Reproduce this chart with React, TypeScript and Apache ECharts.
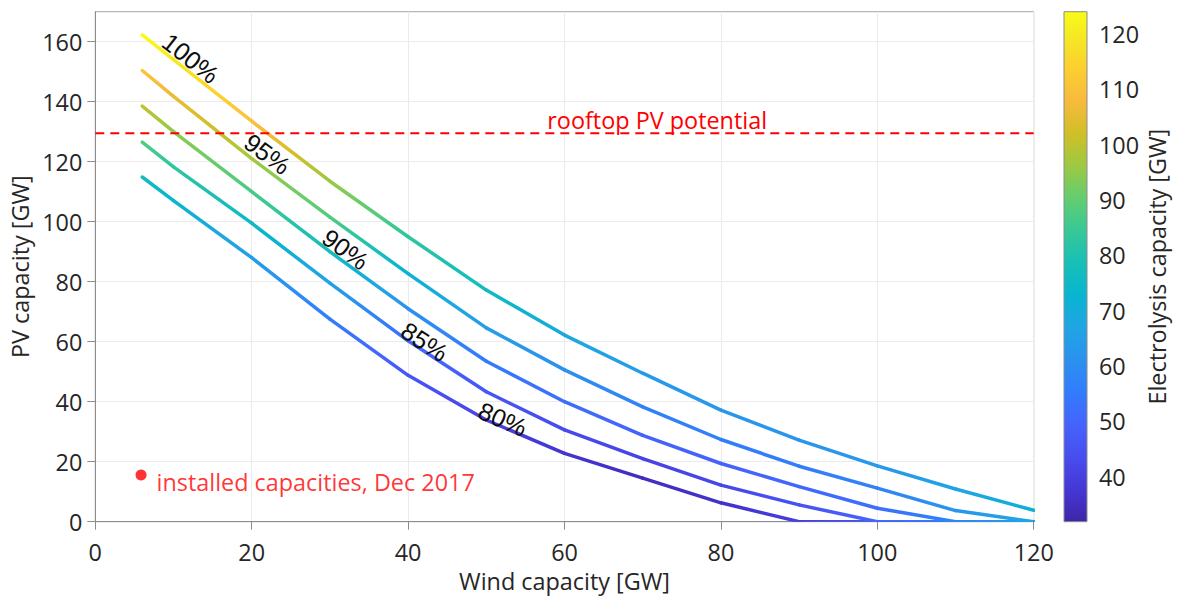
import React, { useEffect, useRef } from "react";
import * as echarts from "echarts";

// Wind capacity sampling points [GW]
const windCapacity = [6, 10, 20, 30, 40, 50, 60, 70, 80, 90, 100, 110, 120];

// Share levels of the contour lines
const shareLevels = ["80%", "85%", "90%", "95%", "100%"];

// Required PV capacity [GW] per share level
const pv80 = [114.9, 107, 88, 67.5, 48.8, 33.9, 22.8, 14.5, 6.3, 0, 0, 0, 0];
const pv85 = [126.5, 118.3, 99.5, 79.5, 60.3, 43.3, 30.6, 21, 12.2, 5.6, 0, 0, 0];
const pv90 = [138.5, 130, 110, 90, 71, 53.5, 40, 28.8, 19.4, 11.7, 4.5, 0, 0];
const pv95 = [150.4, 141.8, 121, 101.5, 82.7, 64.6, 50.6, 38.3, 27.4, 18.5, 11.2, 3.7, 0];
const pv100 = [162.3, 154, 133.5, 113.5, 95, 77.2, 62.2, 49.5, 37.2, 27.2, 18.6, 10.9, 3.8];

// Electrolysis capacity [GW] along each line
const el80 = [77, 73, 65, 56, 46, 41, 37, 35, 36, 40, 46, 54, 62];
const el85 = [88, 83, 75, 66, 51, 46, 43, 41, 42, 45, 50, 56, 64];
const el90 = [100, 95, 87, 77, 61, 55, 52, 49, 49, 50, 52, 58, 66];
const el95 = [111, 106, 97, 88, 72, 65, 61, 57, 56, 56, 57, 62, 68];
const el100 = [124, 120, 110, 96, 83, 76, 68, 64, 63, 62, 63, 67, 71];

// Contour label anchors (text centre in data units)
const labelWind = [52.1, 42.1, 32.0, 22.0, 12.2];
const labelPV = [34.2, 60.0, 90.8, 122.6, 154.5];

// Reference values
const rooftopPotential = 129.5;
const installedPoint = [5.85, 15.6];
const rooftopTextAnchor = [57.8, 129.5];

// Axis ticks
const xTicks = [0, 20, 40, 60, 80, 100, 120];
const yTicks = [0, 20, 40, 60, 80, 100, 120, 140, 160];
const colorTicks = [40, 50, 60, 70, 80, 90, 100, 110, 120];
const colorRange = [31.9, 124];

const pvCurves = [pv80, pv85, pv90, pv95, pv100];
const elCurves = [el80, el85, el90, el95, el100];

// parula colormap, [position, r, g, b]
const parulaStops: number[][] = [
  [0 / 63, 0.2422, 0.1504, 0.6603],
  [4 / 63, 0.2706, 0.2147, 0.8364],
  [8 / 63, 0.2813, 0.3006, 0.9414],
  [12 / 63, 0.2699, 0.3892, 0.9906],
  [16 / 63, 0.1963, 0.4847, 0.9892],
  [20 / 63, 0.1687, 0.5703, 0.9359],
  [24 / 63, 0.1248, 0.6459, 0.8883],
  [28 / 63, 0.0297, 0.7082, 0.8163],
  [32 / 63, 0.0964, 0.75, 0.712],
  [36 / 63, 0.2161, 0.7843, 0.5923],
  [40 / 63, 0.3909, 0.8029, 0.4354],
  [44 / 63, 0.6174, 0.7876, 0.2612],
  [48 / 63, 0.8203, 0.7498, 0.1535],
  [52 / 63, 0.9728, 0.7298, 0.2394],
  [56 / 63, 0.9892, 0.8136, 0.1885],
  [60 / 63, 0.9597, 0.9135, 0.1423],
  [63 / 63, 0.9769, 0.9839, 0.0805],
];

function parulaAt(t: number): string {
  const tt = Math.min(1, Math.max(0, t));
  let k = 0;
  while (k < parulaStops.length - 2 && parulaStops[k + 1][0] < tt) k++;
  const a = parulaStops[k];
  const b = parulaStops[k + 1];
  const f = (tt - a[0]) / (b[0] - a[0]);
  const c = [1, 2, 3].map((j) => Math.round((a[j] + (b[j] - a[j]) * f) * 255));
  return `rgb(${c[0]},${c[1]},${c[2]})`;
}

function parula(v: number): string {
  return parulaAt((v - colorRange[0]) / (colorRange[1] - colorRange[0]));
}

const FONT = "'Open Sans', 'Noto Sans', sans-serif";
const TXT = "#262626";
const AXIS_GRAY = "#8c8c8c";

function buildOption(): echarts.EChartsCoreOption {
  const curveSeries = pvCurves.map((pv, k) => {
    const el = elCurves[k];
    const segments: number[][] = [];
    for (let i = 0; i < windCapacity.length - 1; i++) {
      segments.push([windCapacity[i], pv[i], el[i], windCapacity[i + 1], pv[i + 1], el[i + 1]]);
    }
    return {
      type: "custom",
      name: shareLevels[k],
      clip: true,
      z: 3,
      xAxisIndex: 0,
      yAxisIndex: 0,
      dimensions: ["w0", "p0", "e0", "w1", "p1", "e1"],
      encode: { x: [0, 3], y: [1, 4] },
      data: segments,
      renderItem: (params: any, api: any) => {
        const a = api.coord([api.value(0), api.value(1)]);
        const b = api.coord([api.value(3), api.value(4)]);
        const e0 = api.value(2);
        const e1 = api.value(5);
        const stops = [];
        for (let j = 0; j <= 8; j++) {
          const t = j / 8;
          stops.push({ offset: t, color: parula(e0 + (e1 - e0) * t) });
        }
        return {
          type: "line",
          shape: { x1: a[0], y1: a[1], x2: b[0], y2: b[1] },
          style: {
            stroke: new echarts.graphic.LinearGradient(a[0], a[1], b[0] + 0.001, b[1], stops, true),
            lineWidth: 3.5,
            lineCap: "round",
          },
        };
      },
    };
  });

  const labelSeries = {
    type: "custom",
    z: 4,
    xAxisIndex: 0,
    yAxisIndex: 0,
    data: labelWind.map((w, k) => [w, labelPV[k], k]),
    renderItem: (params: any, api: any) => {
      const w = api.value(0);
      const k = api.value(2);
      const pv = pvCurves[k];
      let i = 0;
      while (i < windCapacity.length - 2 && windCapacity[i + 1] < w) i++;
      const a = api.coord([windCapacity[i], pv[i]]);
      const b = api.coord([windCapacity[i + 1], pv[i + 1]]);
      const rot = Math.atan2(-(b[1] - a[1]), b[0] - a[0]);
      const p = api.coord([w, api.value(1)]);
      return {
        type: "text",
        x: p[0],
        y: p[1],
        rotation: rot,
        style: {
          text: shareLevels[k],
          fill: "#0d0d0d",
          fontSize: 25,
          fontFamily: "'Liberation Sans', Arial, sans-serif",
          align: "center",
          verticalAlign: "middle",
        },
      };
    },
  };

  const rooftopLine = {
    type: "line",
    z: 5,
    xAxisIndex: 0,
    yAxisIndex: 0,
    symbol: "none",
    silent: true,
    data: [
      [xTicks[0], rooftopPotential],
      [xTicks[xTicks.length - 1], rooftopPotential],
    ],
    lineStyle: { color: "#ff0000", width: 2, type: [9, 6] },
  };

  const rooftopText = {
    type: "custom",
    z: 6,
    xAxisIndex: 0,
    yAxisIndex: 0,
    data: [rooftopTextAnchor],
    renderItem: (params: any, api: any) => {
      const p = api.coord([api.value(0), api.value(1)]);
      return {
        type: "text",
        x: p[0],
        y: p[1] - 2,
        style: {
          text: "rooftop PV potential",
          fill: "#ff0000",
          fontSize: 23.4,
          fontFamily: FONT,
          align: "left",
          verticalAlign: "bottom",
        },
      };
    },
  };

  const installed = {
    type: "scatter",
    z: 6,
    xAxisIndex: 0,
    yAxisIndex: 0,
    symbol: "circle",
    symbolSize: 11,
    data: [installedPoint],
    itemStyle: { color: "#ff0000" },
    label: {
      show: true,
      position: "right",
      distance: 10,
      offset: [0, 7],
      formatter: "installed capacities, Dec 2017",
      color: "#ff0000",
      fontSize: 23.4,
      fontFamily: FONT,
    },
  };

  const colorBar = {
    type: "custom",
    xAxisIndex: 1,
    yAxisIndex: 1,
    data: [[0, colorRange[0], 1, colorRange[1]]],
    renderItem: (params: any, api: any) => {
      const a = api.coord([api.value(0), api.value(1)]);
      const b = api.coord([api.value(2), api.value(3)]);
      const stops = parulaStops.map((s) => ({
        offset: s[0],
        color: parulaAt(s[0]),
      }));
      return {
        type: "rect",
        shape: { x: a[0], y: b[1], width: b[0] - a[0], height: a[1] - b[1] },
        style: {
          fill: new echarts.graphic.LinearGradient(a[0], a[1], a[0] + 0.001, b[1], stops, true),
          stroke: AXIS_GRAY,
          lineWidth: 1,
        },
      };
    },
  };

  return {
    animation: false,
    backgroundColor: "#ffffff",
    textStyle: { fontFamily: FONT },
    grid: [
      {
        left: 95.3,
        top: 11.7,
        width: 938.4,
        height: 510,
        show: true,
        borderColor: "#a6a6a6",
        borderWidth: 1,
        backgroundColor: "transparent",
      },
      { left: 1064, top: 11.7, width: 23, height: 510, show: false },
    ],
    xAxis: [
      {
        type: "value",
        gridIndex: 0,
        min: xTicks[0],
        max: xTicks[xTicks.length - 1],
        interval: 20,
        name: "Wind capacity [GW]",
        nameLocation: "middle",
        nameGap: 49,
        nameTextStyle: { fontSize: 23.4, lineHeight: 20, color: TXT, fontFamily: FONT },
        axisLine: { show: true, lineStyle: { color: AXIS_GRAY, width: 1 } },
        axisTick: { show: true, inside: false, length: 8, lineStyle: { color: AXIS_GRAY } },
        axisLabel: { fontSize: 23.4, lineHeight: 20, color: TXT, margin: 20, fontFamily: FONT },
        splitLine: { show: true, lineStyle: { color: "#ebebeb", width: 1 } },
      },
      { type: "value", gridIndex: 1, min: 0, max: 1, show: false },
    ],
    yAxis: [
      {
        type: "value",
        gridIndex: 0,
        min: 0,
        max: 170,
        name: "PV capacity [GW]",
        nameLocation: "middle",
        nameGap: 63,
        nameTextStyle: { fontSize: 23.4, color: TXT, fontFamily: FONT },
        axisLine: { show: true, lineStyle: { color: AXIS_GRAY, width: 1 } },
        axisTick: {
          show: true,
          inside: false,
          length: 8,
          lineStyle: { color: AXIS_GRAY },
          customValues: yTicks,
        },
        axisLabel: {
          fontSize: 23.4,
          color: TXT,
          margin: 13,
          fontFamily: FONT,
          customValues: yTicks,
        },
        splitLine: { show: true, lineStyle: { color: "#ebebeb", width: 1 } },
      },
      {
        type: "value",
        gridIndex: 1,
        position: "right",
        min: colorRange[0],
        max: colorRange[1],
        name: "Electrolysis capacity [GW]",
        nameLocation: "middle",
        nameRotate: 90,
        nameGap: 58,
        nameTextStyle: { fontSize: 23.4, color: TXT, fontFamily: FONT },
        axisLine: { show: false },
        axisTick: {
          show: true,
          inside: false,
          length: 5,
          lineStyle: { color: AXIS_GRAY },
          customValues: colorTicks,
        },
        axisLabel: {
          fontSize: 23.4,
          color: TXT,
          margin: 12,
          fontFamily: FONT,
          customValues: colorTicks,
        },
        splitLine: { show: false },
      },
    ],
    series: [colorBar, ...curveSeries, rooftopLine, labelSeries, rooftopText, installed],
  };
}

export default function App() {
  const ref = useRef<HTMLDivElement>(null);

  useEffect(() => {
    if (!ref.current) return;
    const chart = echarts.init(ref.current, undefined, { renderer: "svg" });
    chart.setOption(buildOption());
    return () => {
      chart.dispose();
    };
  }, []);

  return (
    <div
      ref={ref}
      style={{
        position: "fixed",
        left: 0,
        top: 0,
        width: 1178,
        height: 599,
        background: "#ffffff",
      }}
    />
  );
}
